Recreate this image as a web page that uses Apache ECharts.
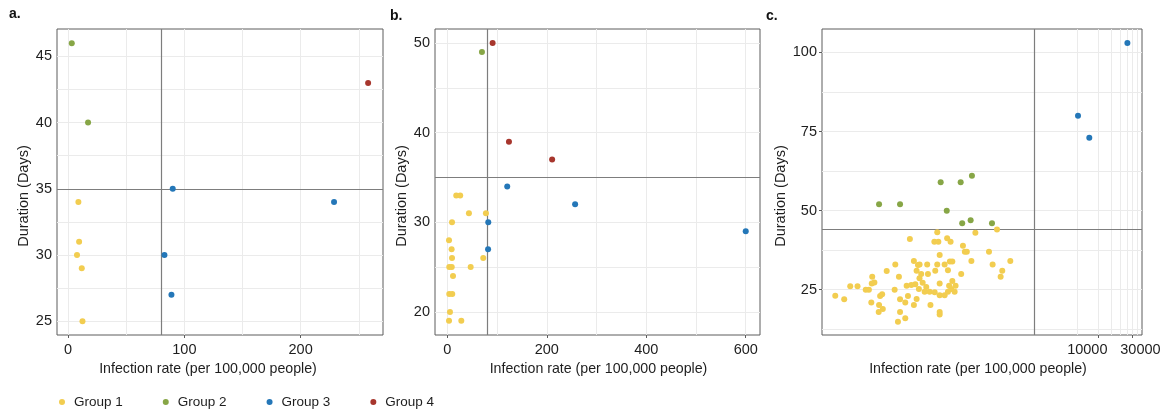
<!DOCTYPE html>
<html>
<head>
<meta charset="utf-8">
<script src="https://cdn.jsdelivr.net/npm/echarts@6/dist/echarts.min.js"></script>
<style>
  html, body { margin: 0; padding: 0; background: #ffffff; }
  #chart { width: 1166px; height: 411px; }
</style>
</head>
<body>
<div id="chart"></div>
<script>
// Groups and their colours
const groupNames = ['Group 1', 'Group 2', 'Group 3', 'Group 4'];
const groupColors = ['#F2CD50', '#87A646', '#2477B8', '#A7362D'];

// Panel a: [infection rate, duration] per group
const aGroup1 = [[8.9, 34], [9.5, 31], [7.7, 30], [11.8, 29], [12.4, 25]];
const aGroup2 = [[3.2, 46], [17.2, 40]];
const aGroup3 = [[90, 35], [228.7, 34], [82.9, 30], [88.9, 27]];
const aGroup4 = [[258, 43]];

// Panel b
const bGroup1 = [[18, 33], [26, 33], [43.5, 31], [77.7, 31], [9.5, 30], [3.5, 28], [8.7, 27],
  [9.5, 26], [72.3, 26], [4, 25], [9, 25], [47, 25], [11.5, 24], [4, 22], [10, 22],
  [5.4, 20], [3.5, 19], [28.2, 19]];
const bGroup2 = [[69.7, 49]];
const bGroup3 = [[120.5, 34], [257, 32], [82.4, 30], [82, 27], [600, 29]];
const bGroup4 = [[91.1, 50], [124, 39], [210.8, 37]];

// Panel c (log-scaled infection rate)
const cGroup1 = [[23.2, 41.0], [14.5, 33.0], [11.0, 30.9], [16.3, 29.1], [26.4, 34.1], [30.1, 32.8],
  [6.9, 29.1], [7.4, 27.3], [6.8, 27.0], [3.4, 26.1], [4.3, 26.1], [5.6, 25.0], [6.2, 25.0],
  [9.5, 23.6], [8.9, 23.0], [14.2, 25.0], [20.9, 26.3], [24.3, 26.5], [27.6, 26.7], [21.8, 23.0],
  [16.9, 22.0], [20.0, 21.0], [28.8, 22.1], [26.4, 20.2], [2.1, 23.1], [2.8, 22.0], [6.7, 21.0],
  [8.6, 20.2], [9.7, 18.9], [8.5, 18.0], [16.9, 18.0], [20.0, 16.0], [15.8, 14.9],
  [383, 44.0], [191, 43.0], [56, 43.2], [51, 40.2], [58, 40.2], [77, 41.3], [86, 40.2],
  [128, 38.9], [136, 37.0], [145, 37.0], [296, 37.0], [60.5, 36.0], [168, 34.1], [333, 33.0],
  [588, 34.1], [454, 31.0], [431, 29.1], [84, 33.9], [91, 33.9], [71, 33.0], [56, 33.0],
  [40.5, 33.0], [31.7, 33.0], [79, 31.2], [121, 30.0], [91, 27.8], [52.5, 31.0], [41.5, 30.0],
  [33.4, 30.0], [31.6, 28.6], [60.5, 27.0], [39.3, 25.9], [31, 25.2], [37.3, 24.4], [43.8, 24.4],
  [51.5, 24.2], [60.5, 23.3], [71, 23.3], [79, 24.4], [88, 25.2], [98, 24.4], [101, 26.3],
  [82, 26.3], [45, 20.2], [60.5, 18.0], [60.5, 17.2], [35, 27.2], [28.8, 31.0]];
const cGroup2 = [[8.6, 52], [16.9, 52], [76, 50], [125, 46], [164, 47], [326, 46],
  [62.5, 59], [119, 59], [171, 61]];
const cGroup3 = [[5200, 80], [7480, 73], [25500, 103]];
const cGroup4 = [];

// Reference lines (rate, duration) for each panel
const thresholdRate = [80, 80, 1260];
const thresholdDuration = [35, 35, 44];

// Tick labels
const aXTicks = [0, 100, 200];
const aYTicks = [25, 30, 35, 40, 45];
const bXTicks = [0, 200, 400, 600];
const bYTicks = [20, 30, 40, 50];
const cXTicks = [10000, 30000];
const cYTicks = [25, 50, 75, 100];

// Background grid breaks (major + minor)
const aXGrid = [0, 50, 100, 150, 200, 250];
const aYGrid = [25, 27.5, 30, 32.5, 35, 37.5, 40, 42.5, 45];
const bXGrid = [0, 100, 200, 300, 400, 500, 600];
const bYGrid = [20, 25, 30, 35, 40, 45, 50];
const cXGrid = [5000, 10000, 15000, 20000, 25000, 30000, 35000];
const cYGrid = [12.5, 25, 37.5, 50, 62.5, 75, 87.5, 100];

const FONT = '"Liberation Sans", Arial, Helvetica, sans-serif';
const TEXT_COLOR = '#1e1e1e';
const BORDER = '#5c5c5c';

const panels = [
  { groups: [aGroup1, aGroup2, aGroup3, aGroup4], xTicks: aXTicks, yTicks: aYTicks, xGrid: aXGrid, yGrid: aYGrid,
    grid: { left: 57, top: 29, width: 326, height: 306 }, xType: 'value', xMin: -9.5, xMax: 270.8, yMin: 23.96, yMax: 47.07,
    xNamePad: [0, 24, 0, 0] },
  { groups: [bGroup1, bGroup2, bGroup3, bGroup4], xTicks: bXTicks, yTicks: bYTicks, xGrid: bXGrid, yGrid: bYGrid,
    grid: { left: 435, top: 29, width: 325, height: 306 }, xType: 'value', xMin: -24.7, xMax: 628.7, yMin: 17.42, yMax: 51.57,
    xNamePad: [0, 0, 0, 2] },
  { groups: [cGroup1, cGroup2, cGroup3, cGroup4], xTicks: cXTicks, yTicks: cYTicks, xGrid: cXGrid, yGrid: cYGrid,
    grid: { left: 822, top: 29, width: 320, height: 306 }, xType: 'log', xMin: 1.37, xMax: 40800, yMin: 10.7, yMax: 107.4,
    xNamePad: [0, 8, 0, 0] }
];

const grids = [], xAxes = [], yAxes = [], series = [];
const tickLabelStyle = { fontFamily: FONT, fontSize: 14.5, color: TEXT_COLOR };

panels.forEach((p, i) => {
  grids.push(Object.assign({
    show: true, backgroundColor: '#ffffff', borderColor: BORDER, borderWidth: 1, containLabel: false
  }, p.grid));

  const isLog = p.xType === 'log';
  // on the log panel the two labels sit close together, so each one gets its own axis
  const mainXTicks = isLog ? [p.xTicks[0]] : p.xTicks;

  xAxes.push({
    gridIndex: i, type: p.xType, min: p.xMin, max: p.xMax,
    name: 'Infection rate (per 100,000 people)', nameLocation: 'middle', nameGap: 20,
    nameTextStyle: { fontFamily: FONT, fontSize: 14.2, color: TEXT_COLOR, verticalAlign: 'top', padding: p.xNamePad },
    axisLine: { show: false },
    axisTick: { show: true, length: 3, customValues: mainXTicks, lineStyle: { color: BORDER } },
    axisLabel: Object.assign({
      customValues: mainXTicks, margin: 7, hideOverlap: false,
      formatter: isLog ? (v => '{l|' + Math.round(v) + '}') : (v => String(v)),
      rich: { l: Object.assign({ padding: [0, 22, 0, 0] }, tickLabelStyle) }
    }, tickLabelStyle),
    splitLine: { show: false }, minorSplitLine: { show: false }
  });

  yAxes.push({
    gridIndex: i, type: 'value', min: p.yMin, max: p.yMax,
    name: 'Duration (Days)', nameLocation: 'middle', nameGap: 26,
    nameTextStyle: { fontFamily: FONT, fontSize: 14.5, color: TEXT_COLOR, padding: [0, 28, 0, 0] },
    axisLine: { show: false },
    axisTick: { show: true, length: 3, customValues: p.yTicks, lineStyle: { color: BORDER } },
    axisLabel: Object.assign({ customValues: p.yTicks, margin: 5 }, tickLabelStyle),
    splitLine: { show: false }
  });

  // light background grid
  series.push({
    type: 'scatter', name: 'grid-' + i, xAxisIndex: i, yAxisIndex: i, data: [], z: 1, silent: true,
    markLine: {
      z: 1, silent: true, symbol: ['none', 'none'], animation: false, label: { show: false },
      lineStyle: { color: '#ebebeb', width: 1, type: 'solid' },
      emphasis: { disabled: true },
      data: p.xGrid.map(v => ({ xAxis: v })).concat(p.yGrid.map(v => ({ yAxis: v })))
    }
  });

  // reference lines
  series.push({
    type: 'scatter', name: 'ref-' + i, xAxisIndex: i, yAxisIndex: i, data: [], z: 2, silent: true,
    markLine: {
      z: 2, silent: true, symbol: ['none', 'none'], animation: false, label: { show: false },
      lineStyle: { color: '#7d7d7d', width: 1.2, type: 'solid' },
      emphasis: { disabled: true },
      data: [{ xAxis: thresholdRate[i] }, { yAxis: thresholdDuration[i] }]
    }
  });

  p.groups.forEach((pts, g) => {
    series.push({
      type: 'scatter', name: groupNames[g], xAxisIndex: i, yAxisIndex: i, z: 5,
      symbol: 'circle', symbolSize: 6, itemStyle: { color: groupColors[g], opacity: 1 },
      data: pts
    });
  });
});

// second log axis on panel c carrying the upper label
const cPanel = panels[2];
const cExtraTicks = [cPanel.xTicks[1]];
xAxes.push({
  gridIndex: 2, type: 'log', min: cPanel.xMin, max: cPanel.xMax, position: 'bottom',
  axisLine: { show: false },
  axisTick: { show: true, length: 3, customValues: cExtraTicks, lineStyle: { color: BORDER } },
  axisLabel: Object.assign({
    customValues: cExtraTicks, margin: 7, hideOverlap: false,
    formatter: v => '{r|' + Math.round(v) + '}',
    rich: { r: Object.assign({ padding: [0, 0, 0, 16] }, tickLabelStyle) }
  }, tickLabelStyle),
  splitLine: { show: false }, minorSplitLine: { show: false }
});

const chart = echarts.init(document.getElementById('chart'), null, { renderer: 'canvas' });
chart.setOption({
  backgroundColor: '#ffffff',
  animation: false,
  color: groupColors,
  grid: grids,
  xAxis: xAxes,
  yAxis: yAxes,
  legend: {
    data: groupNames, left: 54, top: 390, icon: 'circle', itemWidth: 6, itemHeight: 6, itemGap: 40,
    textStyle: { fontFamily: FONT, fontSize: 13.5, color: TEXT_COLOR, padding: [0, 0, 0, 4] }
  },
  graphic: [
    { type: 'text', left: 9, top: 7, style: { text: 'a.', font: 'bold 14px ' + FONT, fill: '#111' } },
    { type: 'text', left: 390, top: 9, style: { text: 'b.', font: 'bold 14px ' + FONT, fill: '#111' } },
    { type: 'text', left: 766, top: 9, style: { text: 'c.', font: 'bold 14px ' + FONT, fill: '#111' } }
  ],
  series: series
});
</script>
</body>
</html>
